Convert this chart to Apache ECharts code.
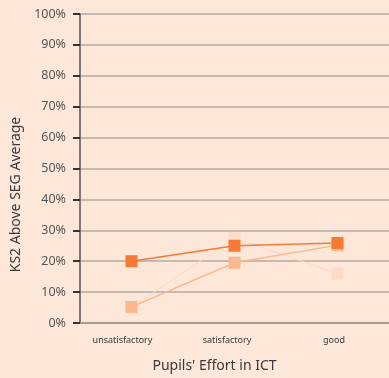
<!DOCTYPE html>
<html>
<head>
<meta charset="utf-8">
<script src="https://cdn.jsdelivr.net/npm/echarts@6/dist/echarts.min.js"></script>
<style>
html,body{margin:0;padding:0;background:#fde7d9;}
#chart{width:389px;height:378px;}
</style>
</head>
<body>
<div id="chart"></div>
<script>
// categories on the x axis
var categories = ['unsatisfactory', 'satisfactory', 'good'];
// values in percent
var paleSeries = [5, 27.5, 16];
var lightSeries = [5.2, 19.5, 25.2];
var darkSeries = [20, 25, 25.9];
var yTicks = [0, 10, 20, 30, 40, 50, 60, 70, 80, 90, 100];

var fontName = 'Noto Sans';
// labels in the original sit a little left of their ticks
var labelKeys = { 'unsatisfactory': 'u', 'satisfactory': 's', 'good': 'g' };

function lineSeries(data, color, width) {
	return {
		type: 'line',
		data: data,
		symbol: 'rect',
		symbolSize: 12,
		showSymbol: true,
		lineStyle: { color: color, width: width },
		itemStyle: { color: color, borderWidth: 0 },
		animation: false
	};
}

var myChart = echarts.init(document.getElementById('chart'));
var option = {
	backgroundColor: '#fde7d9',
	textStyle: { fontFamily: fontName },
	grid: { left: 80, top: 14, right: -3, bottom: 53.5 },
	xAxis: {
		type: 'category',
		data: categories,
		name: "Pupils' Effort in ICT",
		nameLocation: 'middle',
		nameGap: 36,
		nameTextStyle: { fontSize: 14, color: '#3a3a3a', fontFamily: fontName, padding: [0, 40, 0, 0] },
		axisLine: { lineStyle: { color: '#9a9390', width: 1.5 } },
		axisTick: { alignWithLabel: true, length: 6, lineStyle: { color: '#333', width: 2 } },
		axisLabel: {
			fontSize: 9,
			color: '#3a3a3a',
			margin: 13,
			formatter: function (v) { return '{' + labelKeys[v] + '|' + v + '}'; },
			rich: {
				u: { fontSize: 9, color: '#3a3a3a', padding: [0, 18, 0, 0] },
				s: { fontSize: 9, color: '#3a3a3a', padding: [0, 15, 0, 0] },
				g: { fontSize: 9, color: '#3a3a3a', padding: [0, 7, 0, 0] }
			}
		}
	},
	yAxis: {
		type: 'value',
		min: yTicks[0],
		max: yTicks[yTicks.length - 1],
		interval: 10,
		name: 'KS2 Above SEG Average',
		nameLocation: 'middle',
		nameGap: 55,
		nameTextStyle: { fontSize: 14, color: '#3a3a3a', fontFamily: fontName, padding: [0, 52, 0, 0] },
		axisLine: { show: true, lineStyle: { color: '#555', width: 1.5 } },
		axisTick: { show: true, inside: false, length: 7, lineStyle: { color: '#333', width: 2 } },
		axisLabel: { fontSize: 12.5, color: '#555', margin: 14, formatter: '{value}%' },
		splitLine: { lineStyle: { color: '#b3aaa4', width: 1.5 } }
	},
	series: [
		lineSeries(paleSeries, '#fddcc7', 1),
		lineSeries(lightSeries, '#fbb88c', 1.5),
		lineSeries(darkSeries, '#f47a36', 1.5)
	]
};
myChart.setOption(option, true);
</script>
</body>
</html>
